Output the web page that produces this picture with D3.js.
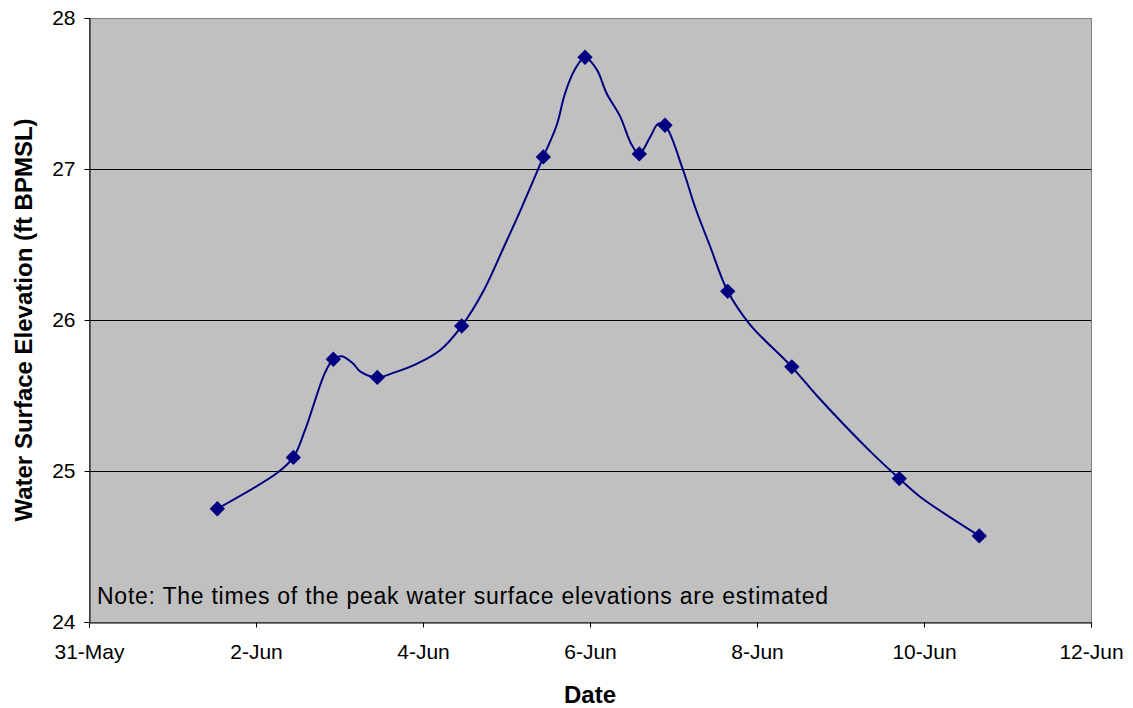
<!DOCTYPE html>
<html><head><meta charset="utf-8">
<script src="https://cdn.jsdelivr.net/npm/d3@7"></script>
<style>body{margin:0;background:#fff}svg{display:block}text{font-family:Arial,"Liberation Sans",sans-serif}</style>
</head><body><svg id="c" width="1133" height="708"></svg>
<script>
// Marked observations
const markerDates = ["06/01 12:53","06/02 10:44","06/02 22:13","06/03 10:52","06/04 11:07","06/05 10:35","06/05 22:34","06/06 14:10","06/06 21:33","06/07 15:35","06/08 10:00","06/09 16:54","06/10 15:53"];
const markerValues = [24.75,25.09,25.74,25.62,25.96,27.08,27.74,27.10,27.29,26.19,25.69,24.95,24.57];
// Continuous record (smoothed line)
const lineDates = ["06/01 12:53","06/02 06:14","06/02 10:44","06/02 14:05","06/02 19:49","06/02 22:13","06/03 00:37","06/03 03:58","06/03 05:54","06/03 10:52","06/03 15:27","06/03 22:12","06/04 04:54","06/04 11:07","06/04 17:20","06/04 23:34","06/05 03:53","06/05 10:35","06/05 14:25","06/05 16:49","06/05 19:41","06/05 22:34","06/06 01:55","06/06 04:48","06/06 08:37","06/06 11:59","06/06 14:10","06/06 17:15","06/06 19:38","06/06 21:33","06/07 02:48","06/07 06:10","06/07 10:29","06/07 15:35","06/07 21:59","06/08 10:00","06/08 17:10","06/09 08:59","06/09 16:54","06/09 22:51","06/10 15:53"];
const lineValues = [24.75,24.99,25.09,25.27,25.65,25.74,25.76,25.71,25.66,25.62,25.65,25.71,25.80,25.96,26.19,26.50,26.72,27.08,27.29,27.50,27.66,27.74,27.66,27.50,27.35,27.16,27.10,27.21,27.30,27.29,26.99,26.75,26.49,26.19,25.97,25.69,25.50,25.12,24.95,24.83,24.57];
const xTickDates = ["05/31 00:00","06/02 00:00","06/04 00:00","06/06 00:00","06/08 00:00","06/10 00:00","06/12 00:00"];
const yTicks = [24,25,26,27,28];
const yDomain = [24,28];
const note = "Note: The times of the peak water surface elevations are estimated";

const parse = d3.timeParse("%m/%d %H:%M");
const fmt = d3.timeFormat("%-d-%b");
const L=89, R=1091, T=18, B=622;
const svg = d3.select("#c");
const x = d3.scaleTime().domain([parse(xTickDates[0]), parse(xTickDates[xTickDates.length-1])]).range([L,R]);
const y = d3.scaleLinear().domain(yDomain).range([B,T]);

svg.append("rect").attr("x",L).attr("y",T).attr("width",R-L).attr("height",B-T).attr("fill","#c0c0c0");
// gridlines
svg.append("g").selectAll("line").data(yTicks.slice(1,-1)).join("line")
  .attr("x1",L).attr("x2",R).attr("y1",d=>Math.round(y(d))+0.5).attr("y2",d=>Math.round(y(d))+0.5)
  .attr("stroke","#000").attr("stroke-width",1);
svg.append("rect").attr("x",L+0.5).attr("y",T+0.5).attr("width",R-L).attr("height",B-T).attr("fill","none").attr("stroke","#808080");

const xAxis = svg.append("g").attr("transform",`translate(0,${B+0.5})`)
  .call(d3.axisBottom(x).tickValues(xTickDates.map(parse)).tickFormat(fmt).tickSize(5).tickPadding(17));
const yAxis = svg.append("g").attr("transform",`translate(${L+0.5},0)`)
  .call(d3.axisLeft(y).tickValues(yTicks).tickFormat(d3.format("d")).tickSize(5).tickPadding(9));
[xAxis,yAxis].forEach(g=>{
  g.select(".domain").attr("stroke","#000");
  g.selectAll(".tick line").attr("stroke","#000");
  g.selectAll("text").attr("font-size",21).attr("fill","#000").attr("font-family","Arial, 'Liberation Sans', sans-serif");
});

const lineData = lineDates.map((d,i)=>({x:parse(d),v:lineValues[i]}));
svg.append("path").datum(lineData).attr("fill","none").attr("stroke","#000080").attr("stroke-width",2)
  .attr("d",d3.line().x(d=>x(d.x)).y(d=>y(d.v)).curve(d3.curveCatmullRom.alpha(0.5)));

const mk = markerDates.map((d,i)=>({x:parse(d),v:markerValues[i]}));
svg.append("g").selectAll("path").data(mk).join("path")
  .attr("transform",d=>`translate(${x(d.x)},${y(d.v)})`)
  .attr("d",d3.symbol(d3.symbolDiamond2, 150)).attr("fill","#000080");

svg.append("text").attr("x",97).attr("y",604).attr("font-size",23).attr("fill","#000")
  .attr("textLength",731).attr("lengthAdjust","spacing").text(note);
svg.append("text").attr("x",(L+R)/2).attr("y",703).attr("text-anchor","middle").attr("font-size",24).attr("font-weight","bold").text("Date");
svg.append("text").attr("transform",`translate(32,${(T+B)/2}) rotate(-90)`).attr("text-anchor","middle").attr("font-size",24).attr("font-weight","bold").text("Water Surface Elevation (ft BPMSL)");
</script></body></html>
